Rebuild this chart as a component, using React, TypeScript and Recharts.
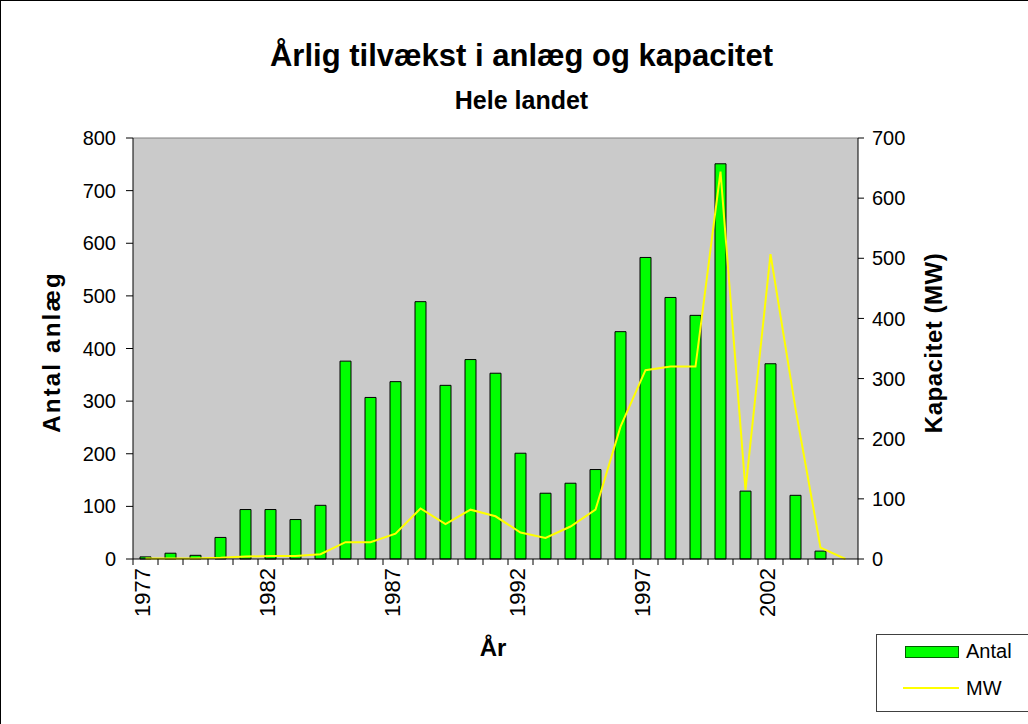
import React from 'react';
import { ComposedChart, Bar, Line, XAxis, YAxis, CartesianGrid, ReferenceLine } from 'recharts';

const years = ['1977', '1978', '1979', '1980', '1981', '1982', '1983', '1984', '1985', '1986', '1987', '1988', '1989', '1990', '1991', '1992', '1993', '1994', '1995', '1996', '1997', '1998', '1999', '2000', '2001', '2002', '2003', '2004', '2005'];
const antal = [4, 11, 7, 41, 94, 94, 75, 102, 376, 307, 337, 489, 330, 379, 353, 201, 125, 144, 170, 432, 573, 497, 463, 751, 129, 371, 121, 15, 0];
const mw = [1, 1, 1, 2, 4, 5, 5, 8, 28, 28, 42, 84, 58, 82, 71, 44, 35, 54, 82, 220, 314, 320, 320, 644, 115, 507, 250, 19, 0];
const labeledYears = ['1977', '1982', '1987', '1992', '1997', '2002'];
const leftTicks = [0, 100, 200, 300, 400, 500, 600, 700, 800];
const rightTicks = [0, 100, 200, 300, 400, 500, 600, 700];

const data = years.map((y, i) => ({ year: y, antal: antal[i], mw: mw[i] }));

const FONT = '"Liberation Sans", Arial, Helvetica, sans-serif';
const W = 1028;
const H = 724;
const LEFT_W = 133;
const RIGHT_W = 170;
const X_H = 165;
const TOP = 138;
const STEP = (W - LEFT_W - RIGHT_W) / years.length;
const X_TICK_SIZE = 6;
const X_TICK_MARGIN = 3;

const XTick = (props: any) => {
  const { x, y, payload } = props;
  const idx = years.indexOf(String(payload.value));
  const axisY = y - X_TICK_SIZE - X_TICK_MARGIN;
  const half = STEP / 2;
  return (
    <g>
      <line x1={x - half} x2={x - half} y1={axisY} y2={axisY + X_TICK_SIZE} stroke="#000" strokeWidth={1} />
      {idx === years.length - 1 && (
        <line x1={x + half} x2={x + half} y1={axisY} y2={axisY + X_TICK_SIZE} stroke="#000" strokeWidth={1} />
      )}
      {labeledYears.includes(String(payload.value)) && (
        <text
          x={x}
          y={y}
          transform={`rotate(-90 ${x} ${y})`}
          textAnchor="end"
          dy="0.2em"
          fontSize={22}
          fontFamily={FONT}
          fill="#000"
        >
          {payload.value}
        </text>
      )}
    </g>
  );
};

export default function App() {
  return (
    <div style={{ position: 'absolute', left: 0, top: 0, width: W, height: H, overflow: 'hidden', background: '#fff', fontFamily: FONT }}>
      <ComposedChart
        width={W}
        height={H}
        data={data}
        margin={{ top: TOP, right: 0, bottom: 0, left: 0 }}
        barCategoryGap={0}
      >
        <CartesianGrid horizontal={false} vertical={false} fill="#CACACA" />
        <XAxis
          dataKey="year"
          height={X_H}
          interval={0}
          tickLine={false}
          tickSize={X_TICK_SIZE}
          tickMargin={X_TICK_MARGIN}
          axisLine={{ stroke: '#000', strokeWidth: 1 }}
          tick={(p: any) => <XTick {...p} />}
        />
        <YAxis
          domain={[0, 800]}
          ticks={leftTicks}
          interval={0}
          width={LEFT_W}
          tickSize={7}
          tickMargin={10}
          axisLine={{ stroke: '#000', strokeWidth: 1 }}
          tickLine={{ stroke: '#000', strokeWidth: 1 }}
          tick={{ fontSize: 20, fill: '#000', fontFamily: FONT }}
        />
        <YAxis
          yAxisId="right"
          orientation="right"
          domain={[0, 700]}
          ticks={rightTicks}
          interval={0}
          width={RIGHT_W}
          tickSize={6}
          tickMargin={8}
          axisLine={{ stroke: '#000', strokeWidth: 1 }}
          tickLine={{ stroke: '#000', strokeWidth: 1 }}
          tick={{ fontSize: 20, fill: '#000', fontFamily: FONT }}
        />
        <ReferenceLine y={800} stroke="#808080" strokeWidth={1} ifOverflow="visible" />
        <Bar dataKey="antal" fill="#00FF00" stroke="#000" strokeWidth={1} barSize={11} isAnimationActive={false} />
        <Line
          yAxisId="right"
          type="linear"
          dataKey="mw"
          stroke="#FFFF00"
          strokeWidth={2}
          dot={false}
          activeDot={false}
          isAnimationActive={false}
        />
      </ComposedChart>
      <svg width={W} height={H} style={{ position: 'absolute', left: 0, top: 0, pointerEvents: 'none' }}>
        <line x1={0.5} y1={0} x2={0.5} y2={H} stroke="#000" strokeWidth={1} />
        <line x1={0} y1={0.5} x2={W} y2={0.5} stroke="#000" strokeWidth={1} />
        <text x={521.5} y={66} textAnchor="middle" fontSize={31} fontWeight="bold" fontFamily={FONT} fill="#000">
          Årlig tilvækst i anlæg og kapacitet
        </text>
        <text x={521.5} y={109} textAnchor="middle" fontSize={25} fontWeight="bold" fontFamily={FONT} fill="#000">
          Hele landet
        </text>
        <text
          x={60}
          y={352}
          transform="rotate(-90 60 352)"
          textAnchor="middle"
          fontSize={24}
          fontWeight="bold"
          letterSpacing={2.2}
          fontFamily={FONT}
          fill="#000"
        >
          Antal anlæg
        </text>
        <text
          x={942}
          y={343}
          transform="rotate(-90 942 343)"
          textAnchor="middle"
          fontSize={24}
          fontWeight="bold"
          letterSpacing={0.5}
          fontFamily={FONT}
          fill="#000"
        >
          Kapacitet (MW)
        </text>
        <text x={493} y={656} textAnchor="middle" fontSize={24} fontWeight="bold" fontFamily={FONT} fill="#000">
          År
        </text>
        <rect x={876.5} y={634.5} width={200} height={77} fill="#fff" stroke="#404040" strokeWidth={1} />
        <rect x={905.5} y={646.5} width={53} height={11} fill="#00FF00" stroke="#006000" strokeWidth={1} />
        <text x={966} y={658} fontSize={20} fontFamily={FONT} fill="#000">Antal</text>
        <line x1={903} y1={688} x2={959} y2={688} stroke="#FFFF00" strokeWidth={2} />
        <text x={966} y={695} fontSize={20} fontFamily={FONT} fill="#000">MW</text>
      </svg>
    </div>
  );
}
